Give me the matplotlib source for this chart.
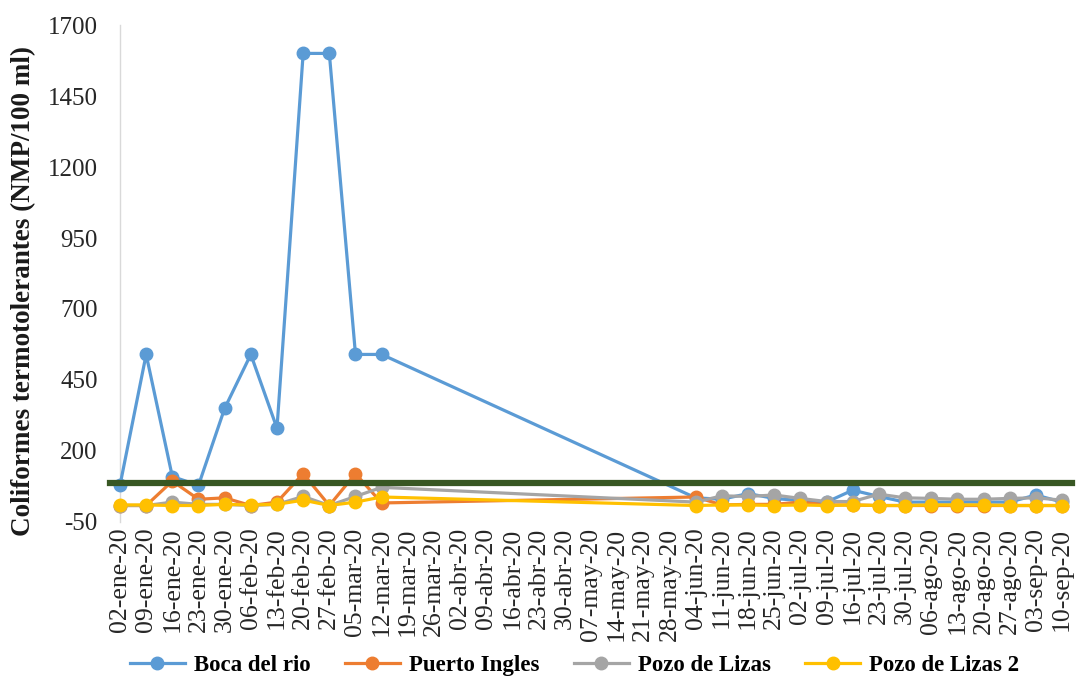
import matplotlib
matplotlib.use("Agg")
import matplotlib.pyplot as plt

# Weekly axis labels (Spanish dates)
week_labels = [
    "02-ene-20", "09-ene-20", "16-ene-20", "23-ene-20", "30-ene-20",
    "06-feb-20", "13-feb-20", "20-feb-20", "27-feb-20", "05-mar-20",
    "12-mar-20", "19-mar-20", "26-mar-20", "02-abr-20", "09-abr-20",
    "16-abr-20", "23-abr-20", "30-abr-20", "07-may-20", "14-may-20",
    "21-may-20", "28-may-20", "04-jun-20", "11-jun-20", "18-jun-20",
    "25-jun-20", "02-jul-20", "09-jul-20", "16-jul-20", "23-jul-20",
    "30-jul-20", "06-ago-20", "13-ago-20", "20-ago-20", "27-ago-20",
    "03-sep-20", "10-sep-20",
]

# Sampling dates
sample_dates = [
    "02-ene-20", "09-ene-20", "16-ene-20", "23-ene-20", "30-ene-20",
    "06-feb-20", "13-feb-20", "20-feb-20", "27-feb-20", "05-mar-20",
    "12-mar-20",
    "04-jun-20", "11-jun-20", "18-jun-20", "25-jun-20", "02-jul-20",
    "09-jul-20", "16-jul-20", "23-jul-20", "30-jul-20", "06-ago-20",
    "13-ago-20", "20-ago-20", "27-ago-20", "03-sep-20", "10-sep-20",
]

# Thermotolerant coliforms (NMP/100 ml) per station
boca_del_rio = [79, 540, 110, 79, 350, 540, 280, 1600, 1600, 540, 540,
                35, 30, 50, 33, 25, 20, 62, 40, 20, 20, 20, 20, 20, 45, 20]
puerto_ingles = [8, 8, 94, 30, 35, 8, 20, 120, 8, 120, 17,
                 38, 10, 12, 12, 20, 10, 10, 8, 8, 8, 8, 8, 8, 8, 8]
pozo_de_lizas = [8, 8, 20, 12, 12, 8, 12, 40, 8, 40, 72,
                 20, 42, 40, 45, 33, 22, 22, 48, 35, 33, 30, 30, 33, 35, 27]
pozo_de_lizas_2 = [10, 10, 8, 8, 12, 10, 12, 27, 8, 20, 38,
                   8, 10, 10, 8, 10, 8, 10, 8, 8, 10, 10, 10, 8, 8, 8]

limit_value = 88

series_names = ["Boca del rio", "Puerto Ingles", "Pozo de Lizas", "Pozo de Lizas 2"]
series_values = [boca_del_rio, puerto_ingles, pozo_de_lizas, pozo_de_lizas_2]
series_colors = ["#5B9BD5", "#ED7D31", "#A5A5A5", "#FFC000"]

y_ticks = [-50, 200, 450, 700, 950, 1200, 1450, 1700]

serif = ["Liberation Serif", "DejaVu Serif"]
plt.rcParams["font.family"] = serif

fig = plt.figure(figsize=(10.78, 6.91), dpi=100)
ax = fig.add_axes([0.1113, 0.2446, 0.8831, 0.7192])

x_pos = [week_labels.index(d) for d in sample_dates]

for name, vals, col in zip(series_names, series_values, series_colors):
    ax.plot(x_pos, vals, color=col, lw=2.3, marker="o", ms=9,
            markerfacecolor=col, markeredgecolor=col, label=name,
            clip_on=False, zorder=3)

# Reference limit line
ax.plot([-0.4, len(week_labels) - 0.6], [limit_value, limit_value],
        color="#385723", lw=4.5, clip_on=False, zorder=4)

ax.set_xlim(0, len(week_labels) - 0.62)
ax.set_ylim(-50, 1700)
ax.set_yticks(y_ticks)
ax.set_yticklabels([str(v) for v in y_ticks], fontsize=18, color="#262626")
ax.set_xticks(range(len(week_labels)))
ax.set_xticklabels(week_labels, rotation=90, fontsize=18.5, color="#262626")
ax.tick_params(axis="both", length=0)
ax.tick_params(axis="y", pad=16)
ax.tick_params(axis="x", pad=4)

for side in ["top", "right", "bottom"]:
    ax.spines[side].set_visible(False)
ax.spines["left"].set_color("#D9D9D9")
ax.spines["left"].set_linewidth(1)

ax.set_ylabel("Coliformes termotolerantes (NMP/100 ml)", fontsize=19.5,
              fontweight="bold", color="#1a1a1a")
ax.yaxis.set_label_coords(-0.088, 0.465)

leg = fig.legend(loc="center", bbox_to_anchor=(0.533, 0.037), ncol=4,
                 frameon=False, prop={"family": serif, "weight": "bold", "size": 16.5},
                 handlelength=2.4, columnspacing=1.5, handletextpad=0.4)

fig.savefig("out.png", dpi=100)
